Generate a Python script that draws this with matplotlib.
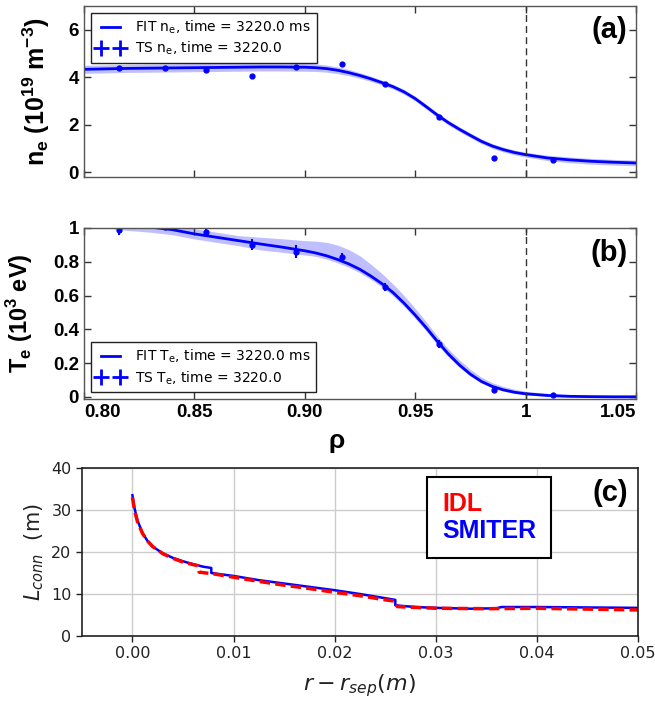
import numpy as np
import matplotlib
matplotlib.use('Agg')
from matplotlib import pyplot as plt
from matplotlib.lines import Line2D

# ---- profile fits ----
rho_fit = [0.80, 0.81, 0.82, 0.83, 0.84, 0.85, 0.86, 0.87, 0.88, 0.89, 0.90,
           0.905, 0.91, 0.915, 0.92, 0.925, 0.93, 0.935, 0.94, 0.945, 0.95,
           0.955, 0.96, 0.965, 0.97, 0.975, 0.98, 0.985, 0.99, 0.995, 1.00,
           1.01, 1.02, 1.03, 1.04, 1.05]
ne_fit = [4.33, 4.35, 4.37, 4.38, 4.39, 4.40, 4.41, 4.42, 4.43, 4.43, 4.42,
          4.40, 4.36, 4.29, 4.19, 4.07, 3.93, 3.77, 3.60, 3.38, 3.10,
          2.76, 2.41, 2.09, 1.81, 1.55, 1.30, 1.10, 0.95, 0.83, 0.74,
          0.60, 0.52, 0.46, 0.42, 0.39]
ne_band = [0.17, 0.17, 0.17, 0.17, 0.17, 0.17, 0.17, 0.17, 0.17, 0.17, 0.17,
           0.16, 0.15, 0.14, 0.13, 0.12, 0.11, 0.10, 0.10, 0.10, 0.10,
           0.10, 0.10, 0.10, 0.10, 0.10, 0.10, 0.10, 0.10, 0.10, 0.10,
           0.11, 0.12, 0.12, 0.12, 0.12]
te_fit = [1.05, 1.03, 1.015, 1.005, 0.99, 0.965, 0.945, 0.925, 0.905, 0.886, 0.865,
          0.852, 0.835, 0.813, 0.787, 0.755, 0.715, 0.670, 0.618, 0.555, 0.485,
          0.41, 0.33, 0.255, 0.19, 0.135, 0.092, 0.062, 0.042, 0.028, 0.019,
          0.009, 0.004, 0.002, 0.001, 0.001]
te_up = [0.03, 0.03, 0.03, 0.03, 0.03, 0.03, 0.03, 0.03, 0.04, 0.05, 0.06,
         0.07, 0.08, 0.085, 0.085, 0.08, 0.07, 0.06, 0.05, 0.045, 0.04,
         0.035, 0.03, 0.03, 0.03, 0.028, 0.025, 0.022, 0.02, 0.018, 0.015,
         0.012, 0.01, 0.01, 0.01, 0.01]
te_dn = [0.03, 0.03, 0.03, 0.03, 0.03, 0.03, 0.03, 0.03, 0.035, 0.03, 0.025,
         0.02, 0.02, 0.02, 0.02, 0.02, 0.02, 0.02, 0.02, 0.02, 0.02,
         0.02, 0.02, 0.018, 0.015, 0.012, 0.01, 0.01, 0.008, 0.008, 0.006,
         0.005, 0.005, 0.005, 0.005, 0.005]

# ---- Thomson scattering points ----
rho_ts = [0.8158, 0.8367, 0.8551, 0.8760, 0.8960, 0.9170, 0.9365, 0.9608, 0.9856, 1.0122]
ne_ts = [4.39, 4.37, 4.30, 4.06, 4.43, 4.57, 3.73, 2.33, 0.62, 0.51]
ne_ts_err = [0.06, 0.06, 0.08, 0.03, 0.08, 0.03, 0.07, 0.06, 0.03, 0.04]
te_ts = [0.99, 1.005, 0.975, 0.90, 0.86, 0.83, 0.65, 0.315, 0.04, 0.01]
te_ts_err = [0.03, 0.02, 0.025, 0.032, 0.037, 0.023, 0.025, 0.025, 0.012, 0.005]

rho_ticks = [0.80, 0.85, 0.90, 0.95, 1.00, 1.05]
rho_ticklabels = ['0.80', '0.85', '0.90', '0.95', '1', '1.05']

# ---- connection length ----
dr_smiter = [0.0, 0.0002, 0.0005, 0.001, 0.0015, 0.002, 0.003, 0.004, 0.005, 0.006,
             0.007, 0.0078, 0.0078, 0.010, 0.0125, 0.015, 0.0175, 0.020, 0.0225, 0.025,
             0.026, 0.026, 0.028, 0.030, 0.0335, 0.036, 0.0365, 0.040, 0.045, 0.050]
lc_smiter = [33.5, 30.5, 27.5, 24.5, 22.6, 21.3, 19.7, 18.6, 17.8, 17.1,
             16.5, 16.2, 15.0, 14.3, 13.3, 12.5, 11.7, 10.9, 10.0, 9.0,
             8.6, 7.3, 6.9, 6.7, 6.5, 6.6, 6.9, 6.9, 6.8, 6.7]
dr_idl = [0.0, 0.0002, 0.0005, 0.001, 0.0015, 0.002, 0.003, 0.004, 0.005, 0.006,
          0.0065, 0.0066, 0.008, 0.010, 0.0125, 0.015, 0.0175, 0.020, 0.0225, 0.025,
          0.026, 0.0262, 0.028, 0.030, 0.035, 0.040, 0.045, 0.050]
lc_idl = [33.0, 30.0, 27.2, 24.4, 22.6, 21.3, 19.6, 18.5, 17.6, 17.0,
          16.7, 15.2, 14.8, 14.0, 13.0, 12.1, 11.3, 10.4, 9.6, 8.6,
          8.3, 7.0, 6.8, 6.6, 6.5, 6.6, 6.4, 6.2]

BOLD = {'family': 'Liberation Sans', 'weight': 'bold'}

fig = plt.figure(figsize=(6.55, 7.04), dpi=100)
ax_a = fig.add_axes([0.128, 0.7486, 0.843, 0.243])
ax_b = fig.add_axes([0.128, 0.4332, 0.843, 0.243])
ax_c = fig.add_axes([0.125, 0.0966, 0.849, 0.2386])

rho = np.array(rho_fit)


def profile_axes(ax):
    ax.set_xlim(0.80, 1.05)
    ax.set_xticks(rho_ticks)
    ax.tick_params(direction='in', top=True, right=True, length=5, width=1,
                   colors='#333333', labelsize=13.5)
    for lab in ax.get_yticklabels() + ax.get_xticklabels():
        lab.set_fontfamily('Liberation Sans')
        lab.set_fontweight('bold')
        lab.set_color('black')
    for sp in ax.spines.values():
        sp.set_color('#555555')
        sp.set_linewidth(1.0)
    ax.axvline(1.0, color='#333333', ls=(0, (5, 3)), lw=1.0)


# (a) density
ne = np.array(ne_fit)
band = np.array(ne_band)
ax_a.fill_between(rho, ne - band, ne + band, color='blue', alpha=0.25, lw=0)
fit_a, = ax_a.plot(rho, ne, color='blue', lw=2)
ax_a.errorbar(rho_ts, ne_ts, yerr=ne_ts_err, fmt='o', ms=3.5, color='blue',
              elinewidth=1.5, capsize=0)
ax_a.set_ylim(-0.2, 7)
ax_a.set_yticks([0, 2, 4, 6])
profile_axes(ax_a)
ax_a.set_xticklabels([])
ax_a.set_ylabel('n$_\\mathregular{e}$ (10$^\\mathregular{19}$ m$^\\mathregular{-3}$)',
                fontsize=18, **BOLD)
ax_a.yaxis.set_label_coords(-0.058, 0.5)
ts_proxy = Line2D([], [], marker='+', ms=12, mew=2, ls='none', color='blue')
ax_a.legend([fit_a, ts_proxy],
            ['FIT n$_\\mathregular{e}$, time = 3220.0 ms',
             'TS n$_\\mathregular{e}$, time = 3220.0'],
            loc='upper left', numpoints=2, fontsize=10, fancybox=False,
            edgecolor='#222222', framealpha=1, labelspacing=0.3,
            borderaxespad=0.5)
ax_a.text(0.985, 0.86, '(a)', transform=ax_a.transAxes, ha='right', va='center',
          fontsize=21, **BOLD)

# (b) temperature
te = np.array(te_fit)
ax_b.fill_between(rho, te - np.array(te_dn), te + np.array(te_up), color='blue',
                  alpha=0.25, lw=0)
fit_b, = ax_b.plot(rho, te, color='blue', lw=2)
ax_b.errorbar(rho_ts, te_ts, yerr=te_ts_err, fmt='o', ms=3.5, color='blue',
              elinewidth=1.5, capsize=0)
ax_b.set_ylim(-0.012, 1.0)
ax_b.set_yticks([0, 0.2, 0.4, 0.6, 0.8, 1.0])
ax_b.set_yticklabels(['0', '0.2', '0.4', '0.6', '0.8', '1'])
ax_b.set_xticklabels(rho_ticklabels)
profile_axes(ax_b)
xl = ax_b.get_xticklabels()
xl[0].set_ha('left')
xl[-1].set_ha('right')
ax_b.set_ylabel('T$_\\mathregular{e}$ (10$^\\mathregular{3}$ eV)', fontsize=17, **BOLD)
ax_b.yaxis.set_label_coords(-0.088, 0.5)
ax_b.set_xlabel('ρ', fontsize=19, **BOLD)
ax_b.xaxis.set_label_coords(0.458, -0.175)
ax_b.legend([fit_b, ts_proxy],
            ['FIT T$_\\mathregular{e}$, time = 3220.0 ms',
             'TS T$_\\mathregular{e}$, time = 3220.0'],
            loc='lower left', numpoints=2, fontsize=10, fancybox=False,
            edgecolor='#222222', framealpha=1, labelspacing=0.3,
            borderaxespad=0.5)
ax_b.text(0.985, 0.854, '(b)', transform=ax_b.transAxes, ha='right', va='center',
          fontsize=21, **BOLD)

# (c) connection length
ax_c.grid(True, color='#cccccc', lw=1)
ax_c.set_axisbelow(True)
l_smiter, = ax_c.plot(dr_smiter, lc_smiter, color='blue', lw=1.8)
l_idl, = ax_c.plot(dr_idl, lc_idl, color='red', lw=2.5, ls=(0, (3, 1.5)))
ax_c.set_xlim(-0.005, 0.05)
ax_c.set_ylim(0, 40)
ax_c.set_xticks([0.00, 0.01, 0.02, 0.03, 0.04, 0.05])
ax_c.set_yticks([0, 10, 20, 30, 40])
ax_c.tick_params(labelsize=11.5, colors='#222222', length=4, width=1)
for sp in ax_c.spines.values():
    sp.set_color('#222222')
    sp.set_linewidth(1.2)
ax_c.set_xlabel('$r - r_{sep}(m)$', fontsize=16, color='#222222', labelpad=8)
ax_c.set_ylabel('$L_{conn}$  (m)', fontsize=15, color='#222222')
leg = ax_c.legend([l_idl, l_smiter], ['IDL', 'SMITER'], loc='upper left',
                  bbox_to_anchor=(0.6205, 0.946), borderaxespad=0,
                  handlelength=0, handletextpad=0, labelcolor='linecolor',
                  prop={'family': 'Liberation Sans', 'weight': 'bold', 'size': 18},
                  fancybox=False, edgecolor='black', framealpha=1,
                  borderpad=0.6, labelspacing=0.1)
leg.get_frame().set_linewidth(1.5)
ax_c.text(0.982, 0.851, '(c)', transform=ax_c.transAxes, ha='right', va='center',
          fontsize=21, **BOLD)

fig.savefig('out.png', dpi=100)
